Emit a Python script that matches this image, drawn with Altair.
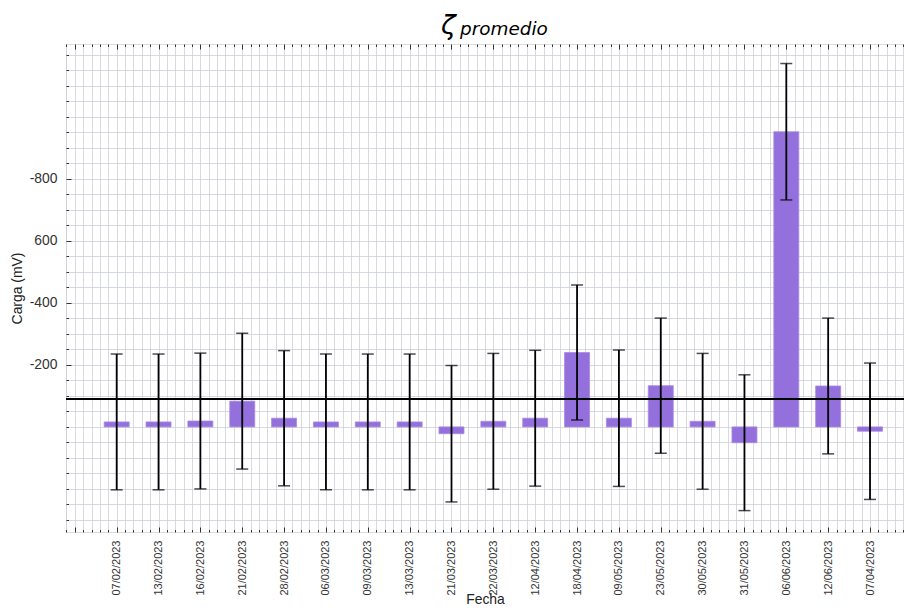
import altair as alt
import pandas as pd

# ---------------- data ----------------
fechas = ["07/02/2023", "13/02/2023", "16/02/2023", "21/02/2023", "28/02/2023",
          "06/03/2023", "09/03/2023", "13/03/2023", "21/03/2023", "22/03/2023",
          "12/04/2023", "18/04/2023", "09/05/2023", "23/05/2023", "30/05/2023",
          "31/05/2023", "06/06/2023", "12/06/2023", "07/04/2023"]
zeta_mean = [16, 16, 19, 83, 28, 16, 16, 16, -22, 18, 28, 240, 28, 133, 18, -51, 952, 132, -14]
zeta_err = [219, 219, 219, 219, 218, 219, 219, 219, 220, 219, 219, 218, 220, 218, 219, 219, 220, 219, 220]
linea_ref = [90]
y_tick_values = [200, 400, 600, 800]
y_tick_labels = ["-200", "-400", "600", "-800"]
titulo = ["ζ"]
subindice = ["promedio"]

# ---------------- layout ----------------
W, H = 838, 488
X_DOMAIN = [-1.211, 18.812]
Y_DOMAIN = [-339, 1235]
FONT = "Liberation Sans"
GRID = "#cfcfd9"
BG = "#EAEAF2"

df = pd.DataFrame({"pos": list(range(len(fechas))), "fecha": fechas,
                   "mean": zeta_mean, "err": zeta_err})
df["lo"] = df["mean"] - df["err"]
df["hi"] = df["mean"] + df["err"]

xs = alt.Scale(domain=X_DOMAIN, nice=False, zero=False, padding=0)
ys = alt.Scale(domain=Y_DOMAIN, nice=False, zero=False, padding=0)

x_minor = [round(-1.2 + 0.2 * k, 1) for k in range(101)]
y_minor = list(range(-300, 1201, 50))

x_label_expr = "[" + ",".join(f"'{f}'" for f in fechas) + "][round(datum.value)]"
y_label_expr = ("[" + ",".join(f"'{l}'" for l in y_tick_labels) + "][indexof(["
                + ",".join(str(v) for v in y_tick_values) + "], datum.value)]")

x_tick_size = {"condition": {"test": "abs(datum.value - round(datum.value)) < 0.01", "value": 5}, "value": 2.5}
y_tick_size = {"condition": {"test": "indexof([" + ",".join(str(v) for v in y_tick_values) + "], datum.value) >= 0", "value": 5}, "value": 2.5}

base = alt.Chart(df)

bars = base.mark_bar(color="#9370DB", width=25, stroke="#a88ae3", strokeWidth=0.8).encode(
    x=alt.X("pos:Q", scale=xs, title="Fecha",
            axis=alt.Axis(orient="bottom", values=list(range(len(fechas))), labelExpr=x_label_expr,
                          labelAngle=270, labelFontSize=11, labelPadding=8, labelFont=FONT,
                          labelColor="#333333", labelOverlap=False, labelFlush=False,
                          ticks=False, tickSize=0, domain=False, grid=False,
                          titleFont=FONT, titleFontSize=13.9, titleFontWeight="normal",
                          titleColor="#222222", titleBaseline="bottom", titleY=74)),
    y=alt.Y("mean:Q", scale=ys, title="Carga (mV)",
            axis=alt.Axis(orient="left", values=y_tick_values, labelExpr=y_label_expr,
                          labelFontSize=13.9, labelPadding=9, labelFont=FONT, labelColor="#333333",
                          labelOverlap=False, labelFlush=False,
                          ticks=False, tickSize=0, domain=False, grid=False,
                          titleFont=FONT, titleFontSize=13.9, titleFontWeight="normal",
                          titleColor="#222222", titlePadding=5)),
)

rules = base.mark_rule(color="black", strokeWidth=1.8).encode(
    x=alt.X("pos:Q", scale=xs, title="",
            axis=alt.Axis(orient="bottom", values=x_minor, grid=True, gridColor=GRID, gridWidth=0.8,
                          labels=False, ticks=False, domain=False, zindex=0)),
    y=alt.Y("lo:Q", scale=ys, title="",
            axis=alt.Axis(orient="left", values=y_minor, grid=True, gridColor=GRID, gridWidth=0.8,
                          labels=False, ticks=False, domain=False, zindex=0)),
    y2="hi:Q",
)

cap_lo = base.mark_tick(orient="horizontal", color="black", size=12, thickness=1.5).encode(
    x=alt.X("pos:Q", scale=xs, title="",
            axis=alt.Axis(orient="bottom", offset=-H, values=x_minor, tickSize=x_tick_size,
                          tickColor="#333333", tickWidth=1, labels=False, domain=False, grid=False)),
    y=alt.Y("lo:Q", scale=ys, title="",
            axis=alt.Axis(orient="right", offset=-W, values=y_minor, tickSize=y_tick_size,
                          tickColor="#333333", tickWidth=1, labels=False, domain=False, grid=False)),
)

cap_hi = base.mark_tick(orient="horizontal", color="black", size=12, thickness=1.5).encode(
    x=alt.X("pos:Q", scale=xs, title="",
            axis=alt.Axis(orient="top", offset=-H, values=x_minor, tickSize=x_tick_size,
                          tickColor="#333333", tickWidth=1, labels=False, domain=False, grid=False)),
    y=alt.Y("hi:Q", scale=ys, axis=None),
)

hline = alt.Chart(pd.DataFrame({"ref": linea_ref})).mark_rule(color="black", strokeWidth=2).encode(
    y=alt.Y("ref:Q", scale=ys, axis=None)
)

t_zeta = alt.Chart(pd.DataFrame({"t": titulo})).mark_text(
    font="DejaVu Sans", fontSize=27, fontStyle="italic", align="left", baseline="alphabetic", color="black"
).encode(text="t:N", x=alt.value(375), y=alt.value(-10))

t_sub = alt.Chart(pd.DataFrame({"t": subindice})).mark_text(
    font="DejaVu Sans", fontSize=18.4, fontStyle="italic", align="left", baseline="alphabetic", color="black"
).encode(text="t:N", x=alt.value(394), y=alt.value(-9))

chart = alt.layer(bars, rules, cap_lo, cap_hi, hline, t_zeta, t_sub).resolve_axis(
    x="independent", y="independent"
).properties(
    width=W, height=H,
    autosize=alt.AutoSizeParams(type="none"),
    padding={"left": 58, "top": 36, "right": 0, "bottom": 75},
).configure_view(strokeWidth=0, fill=BG).configure(background="white")

chart.save("out.html", embed_options={"renderer": "svg", "actions": False})
